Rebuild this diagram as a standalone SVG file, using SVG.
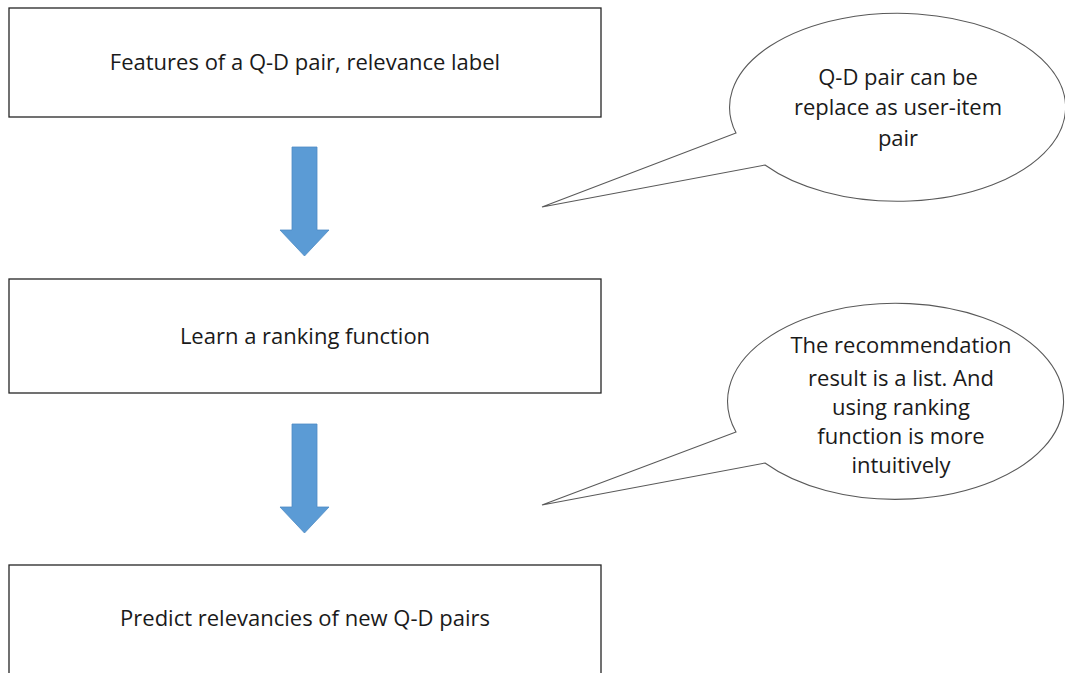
<svg xmlns="http://www.w3.org/2000/svg" width="1065" height="673" viewBox="0 0 1065 673">
  <style>
    .box { fill: #ffffff; stroke: #262626; stroke-width: 1.3; }
    .label { font-family: "Open Sans", "Noto Sans", "Liberation Sans", sans-serif; font-size: 22px; fill: #1a1a1a; text-anchor: middle; }
    .bubble { fill: #ffffff; stroke: #595959; stroke-width: 1.1; stroke-linejoin: miter; }
    .flow { fill: #5B9BD5; stroke: #4F8CC4; stroke-width: 0.8; }
  </style>
  <defs>
    <!-- down arrow shape, origin at shaft top-left -->
    <path id="downArrow" d="M0,0 H25 V83 H37 L12.5,109 L-12,83 H0 Z"/>
  </defs>
  <rect width="1065" height="673" fill="#ffffff"/>

  <g id="node-features">
    <rect class="box" x="9" y="8" width="592" height="109"/>
    <text class="label" x="305" y="70">Features of a Q-D pair, relevance label</text>
  </g>

  <g id="node-learn">
    <rect class="box" x="9" y="279" width="592" height="114"/>
    <text class="label" x="305" y="344">Learn a ranking function</text>
  </g>

  <g id="node-predict">
    <rect class="box" x="9" y="565" width="592" height="120"/>
    <text class="label" x="305" y="626">Predict relevancies of new Q-D pairs</text>
  </g>

  <g id="connectors">
    <use href="#downArrow" class="flow" x="292" y="147"/>
    <use href="#downArrow" class="flow" x="292" y="424"/>
  </g>

  <g id="note-pair">
    <path class="bubble" d="M736,133 A168,94 0 1 1 765,165 L542,207 Z"/>
    <text class="label" x="898" y="85">Q-D pair can be</text>
    <text class="label" x="898" y="115">replace as user-item</text>
    <text class="label" x="898" y="146">pair</text>
  </g>

  <g id="note-list">
    <path class="bubble" d="M736,432 A168,98 0 1 1 765,463 L542,505 Z"/>
    <text class="label" x="901" y="353">The recommendation</text>
    <text class="label" x="901" y="386">result is a list. And</text>
    <text class="label" x="901" y="415">using ranking</text>
    <text class="label" x="901" y="444">function is more</text>
    <text class="label" x="901" y="473">intuitively</text>
  </g>
</svg>
